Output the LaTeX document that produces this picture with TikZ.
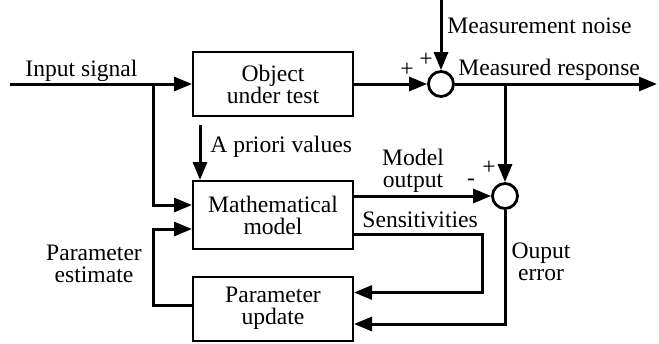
\documentclass[tikz,border=0pt]{standalone}
\usepackage{fontspec}
\setmainfont{Liberation Serif}
\usetikzlibrary{arrows.meta,positioning,calc}

\tikzset{
  block/.style={draw, line width=1pt, minimum width=80pt, minimum height=32pt, align=center, inner sep=0pt},
  sumnode/.style={draw, circle, line width=1.4pt, minimum size=12.5pt, inner sep=0pt},
  sig/.style={line width=1.5pt, -{Triangle[length=9pt,width=7pt]}},
  lbl/.style={inner sep=0pt, align=center},
}

\begin{document}
\begin{tikzpicture}[x=0.5pt,y=-0.5pt,font=\fontsize{11.8}{11}\selectfont]
\useasboundingbox (0,0) rectangle (659,343);
% blocks
\node[block] (obj) at (273,84) {Object\\under test};
\node[block, minimum height=34pt] (model) at (273,215) {Mathematical\\model};
\node[block] (upd) at (273,308.5) {Parameter\\update};
\node[sumnode] (sum1) at (441,84) {};
\node[sumnode] (sum2) at (505,196) {};
% free ends and corners
\coordinate (in) at (10,84);
\coordinate (split) at (153,84);
\coordinate (noise) at (441,0);
\coordinate (out) at (657,84);
\coordinate (tap) at (505,84);
\coordinate (prior) at (200,125);
\coordinate (sensturn) at (482,260);
\coordinate (estturn) at (153,260);
% signals
\draw[sig] (in) -- (obj);
\draw[sig] (split) |- ([yshift=5pt]model.west);
\draw[sig] (obj) -- (sum1);
\draw[sig] (noise) -- (sum1);
\draw[sig] (sum1) -- (out);
\draw[sig] (tap) -- (sum2);
\draw[sig] ([yshift=9.5pt]model.east) -- (sum2);
\draw[sig] ([yshift=-9.5pt]model.east) -| (sensturn) |- ([yshift=8pt]upd.east);
\draw[sig] (sum2) |- ([yshift=-7.75pt]upd.east);
\draw[sig] ([yshift=1.75pt]upd.west) -| (estturn) |- ([yshift=-7pt]model.west);
\draw[sig] (prior) -- (prior |- model.north);
% labels
\node[lbl, anchor=base west] (insig) at (25,76) {Input signal};
\node[lbl, anchor=base west] (noiselbl) at (447,33) {Measurement noise};
\node[lbl, anchor=base west] (resp) at (458,75) {Measured response};
\node[lbl] (p1) at (407,70) {+};
\node[lbl] (p2) at (426,60) {+};
\node[lbl, anchor=base west] (apriori) at (210,152) {A priori values};
\node[lbl, anchor=base] (modout) at (413,187) {Model\\output};
\node[lbl] (m3) at (471,182) {-};
\node[lbl] (p3) at (489,168) {+};
\node[lbl, anchor=base west] (sens) at (362,227) {Sensitivities};
\node[lbl, anchor=base] (operr) at (541,280) {Ouput\\error};
\node[lbl, anchor=base] (est) at (94,282) {Parameter\\estimate};
\end{tikzpicture}
\end{document}
